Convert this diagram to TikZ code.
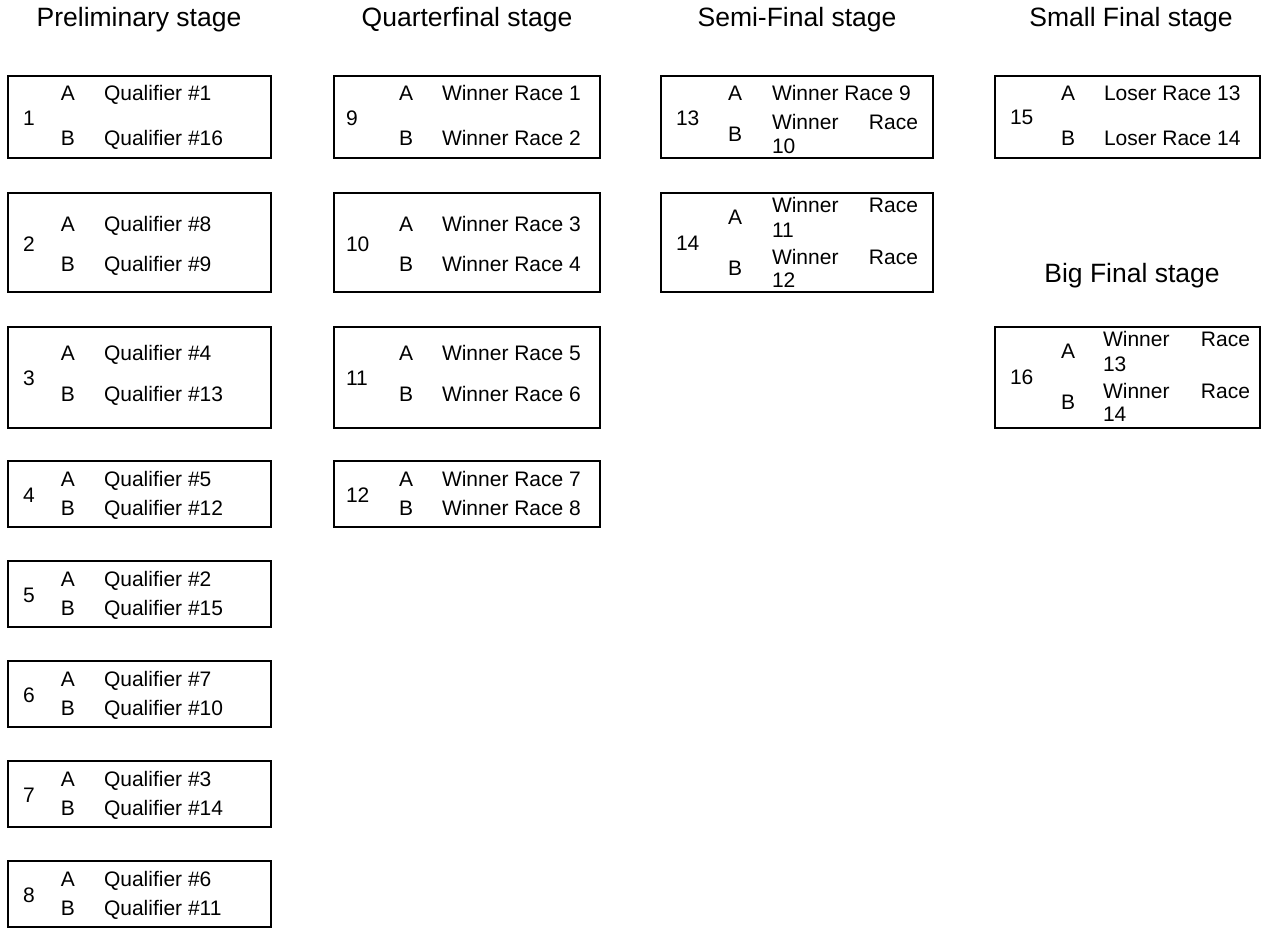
\documentclass[tikz,border=0pt]{standalone}
\usepackage{fontspec}
\setmainfont{Liberation Sans}
\newcommand\racefont{\fontsize{21}{25}\selectfont}
\newcommand\stagefont{\fontsize{26.5}{30}\selectfont}
\tikzset{
  box/.style={draw, line width=2pt, inner sep=0pt, outer sep=0pt},
  txt/.style={inner sep=0pt, outer sep=0pt, anchor=base west, yshift=-7.5pt, font=\racefont},
  lab/.style={inner sep=0pt, outer sep=0pt, anchor=base, yshift=-7.5pt, font=\racefont},
  ttl/.style={inner sep=0pt, outer sep=0pt, anchor=base, yshift=-9.5pt, font=\stagefont}
}
% column settings: box left x, box width, number x, letter x, text x
\newcommand\colset[5]{\def\cx{#1}\def\cw{#2}\def\nx{#3}\def\ax{#4}\def\tx{#5}}
% row offsets: A, B, number
\newcommand\rowoff[3]{\def\oA{#1}\def\oB{#2}\def\oN{#3}}
% name, top, height, number, text A, text B
\newcommand\rb[6]{%
  \node[box, anchor=north west, minimum width=\cw pt, minimum height=#3pt] (#1) at (\cx,#2) {};
  \node[txt] (#1-n) at (\nx,{#2+\oN}) {#4};
  \node[lab] (#1-la) at (\ax,{#2+\oA}) {A};
  \node[lab] (#1-lb) at (\ax,{#2+\oB}) {B};
  \node[txt] (#1-ta) at (\tx,{#2+\oA}) {#5};
  \node[txt] (#1-tb) at (\tx,{#2+\oB}) {#6};
}
\begin{document}
\begin{tikzpicture}[x=1pt, y=-1pt]
\useasboundingbox (0,0) rectangle (1265,928);

% stage titles
\node[ttl] (t1) at (139,17.5) {Preliminary stage};
\node[ttl] (t2) at (467,17.5) {Quarterfinal stage};
\node[ttl] (t3) at (797,17.5) {Semi-Final stage};
\node[ttl] (t4) at (1131,17.5) {Small Final stage};
\node[ttl] (t5) at (1132,273) {Big Final stage};

% Preliminary stage
\colset{8}{263}{23}{68}{104}
\rowoff{17}{62}{42}\rb{b1}{76}{82}{1}{Qualifier \#1}{Qualifier \#16}
\rowoff{31}{71}{51}\rb{b2}{193}{99}{2}{Qualifier \#8}{Qualifier \#9}
\rowoff{26}{67}{51}\rb{b3}{327}{101}{3}{Qualifier \#4}{Qualifier \#13}
\rowoff{18}{47}{34}\rb{b4}{461}{66}{4}{Qualifier \#5}{Qualifier \#12}
\rb{b5}{561}{66}{5}{Qualifier \#2}{Qualifier \#15}
\rb{b6}{661}{66}{6}{Qualifier \#7}{Qualifier \#10}
\rb{b7}{761}{66}{7}{Qualifier \#3}{Qualifier \#14}
\rb{b8}{861}{66}{8}{Qualifier \#6}{Qualifier \#11}

% Quarterfinal stage
\colset{334}{266}{346}{406}{442}
\rowoff{17}{62}{42}\rb{b9}{76}{82}{9}{Winner Race 1}{Winner Race 2}
\rowoff{31}{71}{51}\rb{b10}{193}{99}{10}{Winner Race 3}{Winner Race 4}
\rowoff{26}{67}{51}\rb{b11}{327}{101}{11}{Winner Race 5}{Winner Race 6}
\rowoff{18}{47}{34}\rb{b12}{461}{66}{12}{Winner Race 7}{Winner Race 8}

% Semi-Final stage
\node[box, anchor=north west, minimum width=272pt, minimum height=82pt] (b13) at (661,76) {};
\node[txt] (b13-n) at (676,118) {13};
\node[lab] (b13-la) at (735,93) {A};
\node[txt] (b13-ta) at (772,93) {Winner Race 9};
\node[lab] (b13-lb) at (735,134) {B};
\node[txt] (b13-tb1) at (772,122) {\makebox[146pt][s]{Winner Race}};
\node[txt] (b13-tb2) at (772,146) {10};

\node[box, anchor=north west, minimum width=272pt, minimum height=99pt] (b14) at (661,193) {};
\node[txt] (b14-n) at (676,243) {14};
\node[lab] (b14-la) at (735,217) {A};
\node[txt] (b14-ta1) at (772,205) {\makebox[146pt][s]{Winner Race}};
\node[txt] (b14-ta2) at (772,230) {11};
\node[lab] (b14-lb) at (735,268) {B};
\node[txt] (b14-tb1) at (772,257) {\makebox[146pt][s]{Winner Race}};
\node[txt] (b14-tb2) at (772,280) {12};

% Small Final stage
\colset{995}{265}{1010}{1068}{1104}
\rowoff{17}{62}{41}\rb{b15}{76}{82}{15}{Loser Race 13}{Loser Race 14}

% Big Final stage
\node[box, anchor=north west, minimum width=265pt, minimum height=101pt] (b16) at (995,327) {};
\node[txt] (b16-n) at (1010,377) {16};
\node[lab] (b16-la) at (1068,351) {A};
\node[txt] (b16-ta1) at (1103,339) {\makebox[147pt][s]{Winner Race}};
\node[txt] (b16-ta2) at (1103,364) {13};
\node[lab] (b16-lb) at (1068,402) {B};
\node[txt] (b16-tb1) at (1103,391) {\makebox[147pt][s]{Winner Race}};
\node[txt] (b16-tb2) at (1103,414) {14};
\end{tikzpicture}
\end{document}
